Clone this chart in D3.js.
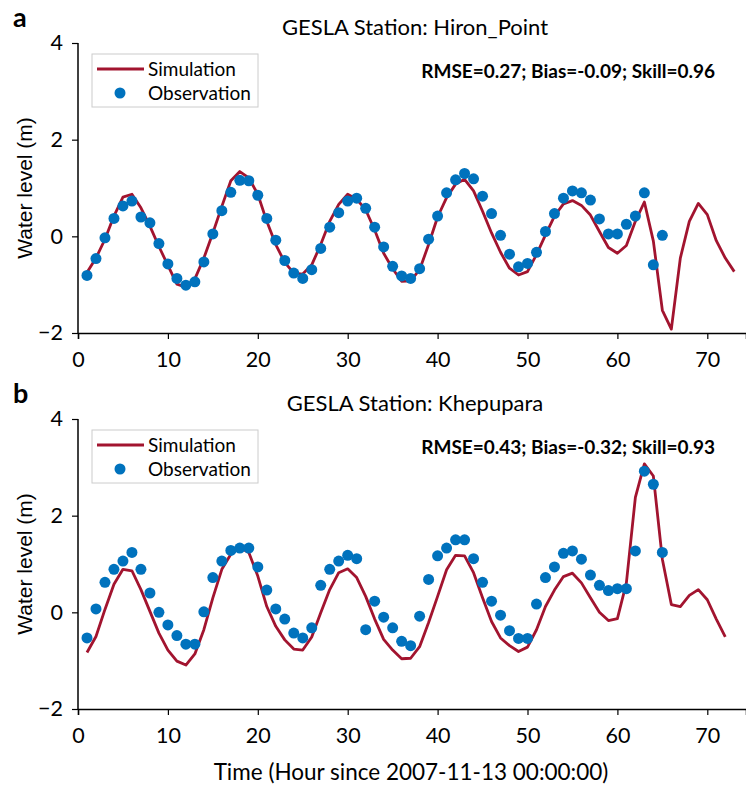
<!DOCTYPE html>
<html>
<head>
<meta charset="utf-8">
<script src="https://cdn.jsdelivr.net/npm/d3@7"></script>
<style>
  body { margin: 0; background: #fff; }
  svg { display: block; font-family: Lato, "Open Sans", sans-serif; }
</style>
</head>
<body>
<div id="chart"></div>
<script>
// hours since 2007-11-13 00:00:00
var simHoursA = d3.range(1, 74);
var simA = [-0.75, -0.45, -0.06, 0.42, 0.81, 0.87, 0.59, 0.21, -0.21, -0.60,
  -0.99, -1.05, -0.88, -0.45, 0.07, 0.62, 1.15, 1.34, 1.21, 0.87,
  0.31, -0.17, -0.54, -0.76, -0.78, -0.59, -0.17, 0.31, 0.66, 0.87,
  0.77, 0.55, 0.13, -0.35, -0.67, -0.93, -0.92, -0.69, -0.17, 0.40,
  0.80, 1.08, 1.18, 0.94, 0.52, 0.07, -0.33, -0.66, -0.80, -0.73,
  -0.38, 0.03, 0.42, 0.67, 0.74, 0.64, 0.44, 0.10, -0.23, -0.35,
  -0.19, 0.31, 0.71, -0.10, -1.53, -1.92, -0.45, 0.31, 0.68, 0.45,
  -0.09, -0.45, -0.73];
var obsHoursA = d3.range(1, 66);
var obsA = [-0.81, -0.46, -0.03, 0.37, 0.63, 0.73, 0.40, 0.28, -0.15, -0.57,
  -0.87, -1.01, -0.94, -0.53, 0.05, 0.53, 0.91, 1.16, 1.15, 0.85,
  0.37, -0.08, -0.50, -0.76, -0.87, -0.69, -0.25, 0.19, 0.49, 0.73,
  0.79, 0.58, 0.19, -0.22, -0.62, -0.82, -0.87, -0.67, -0.06, 0.42,
  0.90, 1.17, 1.30, 1.19, 0.83, 0.47, 0.02, -0.37, -0.63, -0.56,
  -0.33, 0.10, 0.47, 0.79, 0.94, 0.90, 0.75, 0.36, 0.05, 0.05,
  0.25, 0.42, 0.90, -0.59, 0.02];

var simHoursB = d3.range(1, 73);
var simB = [-0.83, -0.50, 0.06, 0.58, 0.89, 0.86, 0.47, 0.02, -0.43, -0.78,
  -1.01, -1.09, -0.86, -0.36, 0.30, 0.89, 1.20, 1.34, 1.24, 0.75,
  0.12, -0.29, -0.57, -0.76, -0.78, -0.51, -0.01, 0.47, 0.82, 0.90,
  0.72, 0.33, -0.14, -0.56, -0.78, -0.96, -0.95, -0.71, -0.21, 0.33,
  0.88, 1.18, 1.17, 0.82, 0.30, -0.19, -0.53, -0.69, -0.81, -0.72,
  -0.36, 0.12, 0.46, 0.74, 0.81, 0.61, 0.30, 0.00, -0.17, -0.13,
  0.61, 2.38, 3.07, 2.82, 1.10, 0.16, 0.12, 0.35, 0.47, 0.26,
  -0.14, -0.51];
var obsHoursB = d3.range(1, 66);
var obsB = [-0.53, 0.07, 0.62, 0.89, 1.06, 1.24, 0.89, 0.40, 0.00, -0.26,
  -0.48, -0.66, -0.66, 0.01, 0.72, 1.06, 1.28, 1.33, 1.33, 0.94,
  0.46, 0.07, -0.14, -0.43, -0.53, -0.32, 0.56, 0.89, 1.06, 1.18,
  1.11, -0.36, 0.23, -0.10, -0.32, -0.60, -0.69, -0.08, 0.68, 1.17,
  1.33, 1.50, 1.50, 1.11, 0.62, 0.23, -0.06, -0.38, -0.54, -0.54,
  0.17, 0.72, 0.94, 1.22, 1.27, 1.10, 0.77, 0.56, 0.45, 0.49,
  0.49, 1.27, 2.92, 2.65, 1.24];

var xTicks = [0, 10, 20, 30, 40, 50, 60, 70];
var yTicks = [-2, 0, 2, 4];

var panels = [
  { tag: "a", title: "GESLA Station: Hiron_Point", stats: "RMSE=0.27; Bias=-0.09; Skill=0.96",
    simX: simHoursA, simY: simA, obsX: obsHoursA, obsY: obsA, top: 43 },
  { tag: "b", title: "GESLA Station: Khepupara", stats: "RMSE=0.43; Bias=-0.32; Skill=0.93",
    simX: simHoursB, simY: simB, obsX: obsHoursB, obsY: obsB, top: 419 }
];

var width = 746, height = 787;
var simColor = "#a2142f", obsColor = "#0072bd";
var left = 78, plotH = 290;

var svg = d3.select("#chart").append("svg")
  .attr("width", width)
  .attr("height", height);

var x = d3.scaleLinear().domain([0, (width - left) / 8.99]).range([left, width]);

panels.forEach(function(p) {
  var y = d3.scaleLinear().domain([-2, 4]).range([p.top + plotH, p.top]);

  var g = svg.append("g");

  // axes
  var xa = g.append("g")
    .attr("transform", "translate(0," + (p.top + plotH) + ")")
    .call(d3.axisBottom(x).tickValues(xTicks).tickSize(6).tickPadding(13).tickFormat(d3.format("d")));
  var ya = g.append("g")
    .attr("transform", "translate(" + left + ",0)")
    .call(d3.axisLeft(y).tickValues(yTicks).tickSize(6).tickPadding(9).tickFormat(d3.format("d")));
  [xa, ya].forEach(function(a) {
    a.select(".domain").attr("stroke", "#000").attr("stroke-width", 1.5);
    a.selectAll(".tick line").attr("stroke", "#000").attr("stroke-width", 1.2);
    a.selectAll(".tick text").attr("fill", "#000").style("font-size", "21.5px").style("font-family", "Lato");
  });
  ya.select(".domain").attr("d", "M0," + (p.top + plotH) + "V" + p.top);

  // simulation line
  var line = d3.line()
    .x(function(d, i) { return x(p.simX[i]); })
    .y(function(d) { return y(d); });
  g.append("path")
    .datum(p.simY)
    .attr("d", line)
    .attr("fill", "none")
    .attr("stroke", simColor)
    .attr("stroke-width", 2.8)
    .attr("stroke-linejoin", "round");

  // observations
  g.selectAll(".obs")
    .data(p.obsY)
    .enter()
    .append("circle")
    .attr("class", "obs")
    .attr("cx", function(d, i) { return x(p.obsX[i]); })
    .attr("cy", function(d) { return y(d); })
    .attr("r", 5.5)
    .attr("fill", obsColor);

  // titles
  g.append("text")
    .attr("x", 415).attr("y", p.top - 8)
    .attr("text-anchor", "middle")
    .style("font-size", "22px")
    .text(p.title);
  g.append("text")
    .attr("x", 13).attr("y", p.top - 16)
    .style("font-size", "27px").style("font-weight", "bold")
    .text(p.tag);
  g.append("text")
    .attr("x", 715).attr("y", p.top + 35)
    .attr("text-anchor", "end")
    .style("font-size", "19px").style("font-weight", "bold")
    .text(p.stats);

  // y label
  g.append("text")
    .attr("transform", "translate(32," + (p.top + 145) + ") rotate(-90)")
    .attr("text-anchor", "middle")
    .style("font-size", "21px")
    .style("font-family", "'Liberation Sans', Arial, sans-serif")
    .text("Water level (m)");

  // legend
  var lg = g.append("g").attr("transform", "translate(92," + (p.top + 11) + ")");
  lg.append("rect")
    .attr("width", 166).attr("height", 53)
    .attr("fill", "#fff").attr("stroke", "#ccc").attr("stroke-width", 1);
  lg.append("line")
    .attr("x1", 5).attr("x2", 52).attr("y1", 15).attr("y2", 15)
    .attr("stroke", simColor).attr("stroke-width", 2.8);
  lg.append("circle")
    .attr("cx", 28).attr("cy", 39).attr("r", 5.5).attr("fill", obsColor);
  lg.append("text").attr("x", 56).attr("y", 22).style("font-size", "19px").text("Simulation");
  lg.append("text").attr("x", 56).attr("y", 46).style("font-size", "19px").text("Observation");
});

svg.append("text")
  .attr("x", 411).attr("y", 780)
  .attr("text-anchor", "middle")
  .style("font-size", "22.5px")
  .text("Time (Hour since 2007-11-13 00:00:00)");
</script>
</body>
</html>
